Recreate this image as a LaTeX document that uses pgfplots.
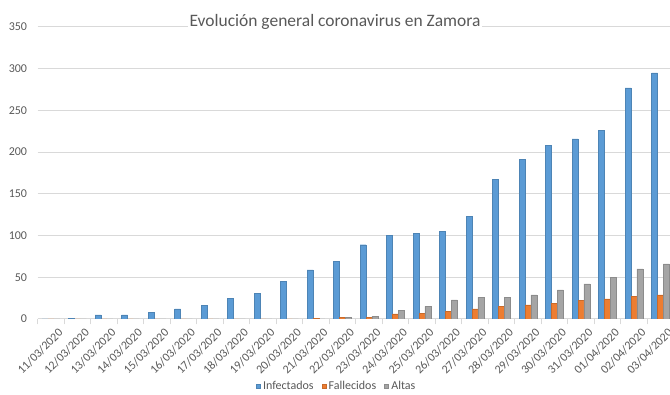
\documentclass[border=0pt]{standalone}
\usepackage{fontspec}
\setmainfont{Carlito}
\usepackage{pgfplots}
\pgfplotsset{compat=1.18}
\definecolor{cblue}{HTML}{5B9BD5}
\definecolor{corange}{HTML}{ED7D31}
\definecolor{cgray}{HTML}{A5A5A5}
\definecolor{txt}{HTML}{595959}
\definecolor{gridc}{HTML}{D9D9D9}
\begin{document}
\begin{tikzpicture}
\useasboundingbox (-28.3pt,-57pt) rectangle (474.2pt,239.25pt);
\begin{axis}[
  at={(0,0)}, anchor=south west,
  scale only axis, width=477pt, height=219pt,
  ybar=0pt, bar width=4.45pt,
  xmin=-0.5, xmax=23.5, ymin=0, ymax=350,
  xtick={0,...,23},
  xticklabels={11/03/2020,12/03/2020,13/03/2020,14/03/2020,15/03/2020,16/03/2020,17/03/2020,18/03/2020,19/03/2020,20/03/2020,21/03/2020,22/03/2020,23/03/2020,24/03/2020,25/03/2020,26/03/2020,27/03/2020,28/03/2020,29/03/2020,30/03/2020,31/03/2020,01/04/2020,02/04/2020,03/04/2020},
  minor xtick={-0.5,0.5,...,23.5},
  ytick={0,50,...,350},
  ymajorgrids, major grid style={gridc, line width=0.75pt},
  axis lines*=left,
  x axis line style={gridc, line width=0.75pt},
  y axis line style={draw=none},
  major tick length=0pt, minor tick length=4pt, tick align=outside,
  minor x tick style={gridc, line width=0.75pt},
  /pgf/number format/assume math mode=true,
  tick label style={font=\fontsize{9}{10}\selectfont, text=txt},
  yticklabel style={xshift=-4.5pt},
  xticklabel style={rotate=45, anchor=north east, inner sep=1pt, xshift=0pt, yshift=-6.9pt},
  every axis title shift=0pt,
  title={Evolución general coronavirus en Zamora},
  title style={at={(0.4674,1)}, anchor=base, yshift=0pt, fill=white, inner sep=1.5pt, font=\fontsize{13.1}{16}\selectfont, text=txt},
  legend style={at={(axis description cs:0.4705,-0.232)}, anchor=center, draw=none, inner sep=1pt, legend columns=-1, font=\fontsize{9}{10}\selectfont, text=txt,
    /tikz/every odd column/.append style={column sep=0pt},
    /tikz/every even column/.append style={column sep=4pt}},
  legend image code/.code={\fill[#1] (0pt,-1.3pt) rectangle (3pt,1.7pt);},
]
\addplot[fill=cblue, draw=cblue!85!black, line width=0.3pt] coordinates {
(0,0) (1,1) (2,5) (3,5) (4,8) (5,12) (6,16) (7,25) (8,31) (9,45) (10,59) (11,69)
(12,89) (13,100) (14,103) (15,105) (16,123) (17,167) (18,191) (19,208) (20,216) (21,226) (22,277) (23,295)};
\addplot[fill=corange, draw=corange!85!black, line width=0.3pt] coordinates {
(0,0) (1,0) (2,0) (3,0) (4,0) (5,0) (6,0) (7,0) (8,0) (9,0) (10,1) (11,2)
(12,2) (13,6) (14,7) (15,9) (16,12) (17,15) (18,17) (19,19) (20,22) (21,24) (22,27) (23,29)};
\addplot[fill=cgray, draw=cgray!85!black, line width=0.3pt] coordinates {
(0,0) (1,0) (2,0) (3,0) (4,0) (5,0) (6,0) (7,0) (8,0) (9,0) (10,0) (11,2)
(12,3) (13,10) (14,15) (15,23) (16,26) (17,26) (18,29) (19,35) (20,42) (21,50) (22,60) (23,66)};
\legend{Infectados,Fallecidos,Altas}
\end{axis}
\end{tikzpicture}
\end{document}
